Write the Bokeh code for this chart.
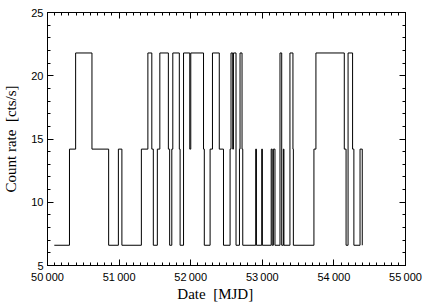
from bokeh.plotting import figure
from bokeh.models import LinearAxis, Range1d, FixedTicker, CustomJSTickFormatter
from bokeh.embed import file_html
from bokeh.resources import INLINE

# Step edges (MJD) and count-rate level held from each edge to the next
mjd = [50095, 50307, 50393, 50621, 50854, 50990, 51039, 51311, 51402, 51457,
       51478, 51534, 51569, 51688, 51706, 51736, 51750, 51841, 51852, 51900,
       51987, 52001, 52179, 52190, 52271, 52304, 52399, 52458, 52550, 52563,
       52587, 52597, 52633, 52681, 52689, 52717, 52727, 52908, 52918, 52992,
       53001, 53124, 53138, 53155, 53177, 53247, 53271, 53294, 53302, 53386,
       53428, 53434, 53721, 53749, 54145, 54170, 54198, 54261, 54279, 54365,
       54396]
L, M, H = 6.6, 14.2, 21.8
rate = [L, M, H, M, L, M, L, M, H, M,
        L, M, H, M, L, M, H, M, L, H,
        M, H, M, L, M, H, M, L, M, H,
        M, H, L, M, H, M, L, M, L, M,
        L, M, L, M, L, H, L, M, L, H,
        M, L, M, H, M, L, H, M, L, M,
        L]

x_ticks = [50000, 51000, 52000, 53000, 54000, 55000]
x_tick_labels = ["50\u2009000", "51\u2009000", "52\u2009000", "53\u2009000", "54\u2009000", "55\u2009000"]
x_minor = list(range(50000, 55001, 100))
y_ticks = [5, 10, 15, 20, 25]
y_minor = list(range(5, 26, 1))

p = figure(frame_width=358, frame_height=253,
           x_range=Range1d(50000, 55000), y_range=Range1d(5, 25),
           output_backend="svg", toolbar_location=None,
           min_border_left=47, min_border_right=26, min_border_top=12, min_border_bottom=38)
p.xgrid.visible = False
p.ygrid.visible = False
p.outline_line_color = "black"
p.outline_line_width = 1

p.step(mjd, rate, mode="after", line_color="black", line_width=1)

def style(ax, labels=True):
    ax.axis_line_color = "black"
    ax.major_tick_line_color = "black"
    ax.minor_tick_line_color = "black"
    ax.major_tick_in = 6
    ax.major_tick_out = 0
    ax.minor_tick_in = 3
    ax.minor_tick_out = 0
    ax.major_label_text_font = "Liberation Sans"
    ax.major_label_text_font_size = "11px"
    ax.major_label_text_color = "black"
    ax.major_label_standoff = 5 if labels else 0
    ax.axis_label_text_font = "Liberation Serif"
    ax.axis_label_text_font_style = "normal"
    ax.axis_label_text_font_size = "15px"
    ax.axis_label_text_color = "black"
    ax.axis_label_standoff = 0
    if not labels:
        ax.formatter = CustomJSTickFormatter(code="return '';")

xax = p.xaxis[0]
xax.ticker = FixedTicker(ticks=x_ticks, minor_ticks=x_minor)
xax.major_label_overrides = dict(zip(x_ticks, x_tick_labels))
xax.axis_label = "Date \u00a0[MJD]" + "\u00a0" * 6
style(xax)

yax = p.yaxis[0]
yax.ticker = FixedTicker(ticks=y_ticks, minor_ticks=y_minor)
yax.axis_label = "Count rate \u00a0[cts/s]"
style(yax)
yax.major_label_standoff = 4
yax.axis_label_standoff = 9

top = LinearAxis(ticker=FixedTicker(ticks=x_ticks, minor_ticks=x_minor))
style(top, labels=False)
p.add_layout(top, "above")
right = LinearAxis(ticker=FixedTicker(ticks=y_ticks, minor_ticks=y_minor))
style(right, labels=False)
p.add_layout(right, "right")

open("out.html", "w").write(file_html(p, INLINE))
